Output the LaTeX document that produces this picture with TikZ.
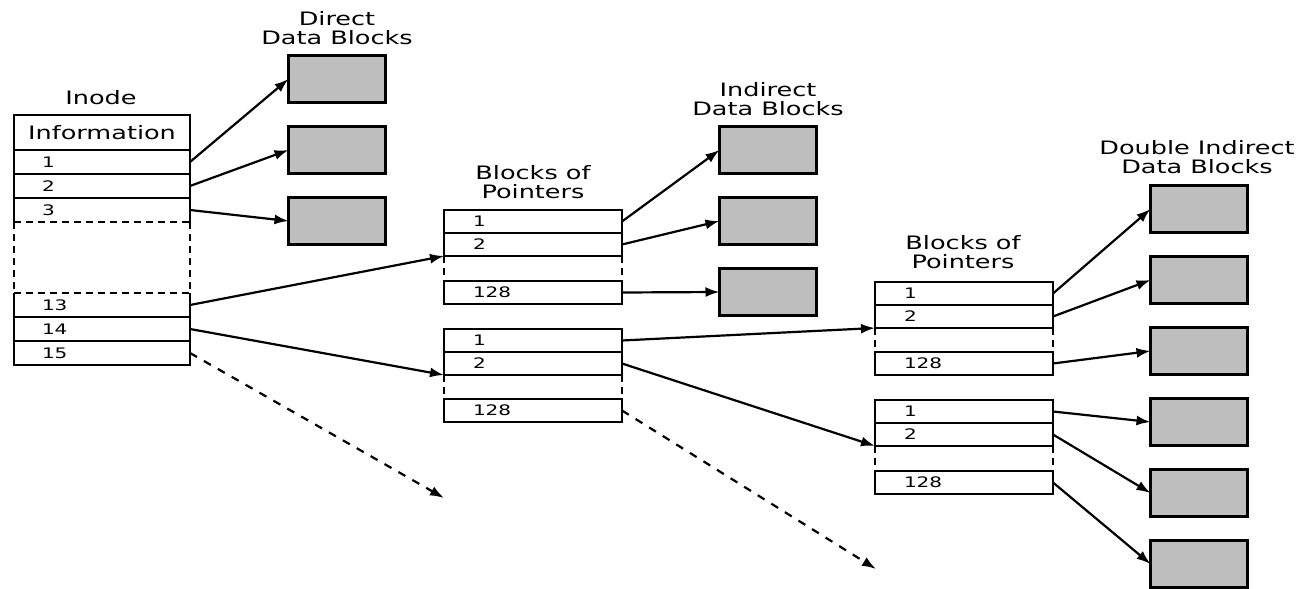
\documentclass[tikz,border=0pt]{standalone}
\usepackage{fontspec}
\setmainfont{DejaVu Sans}[FakeStretch=1.38]
\usetikzlibrary{arrows.meta}
\definecolor{blockgray}{HTML}{BEBEBE}
\tikzset{
  rowbase/.style={line width=2.6pt, minimum height=24pt, inner ysep=0pt, text width=120pt, align=left, anchor=north west, outer sep=0pt, font=\fontsize{14.5}{16}\selectfont},
  irow/.style={rowbase, draw, inner xsep=28pt},
  irowopen/.style={rowbase, inner xsep=28pt},
  prow/.style={rowbase, draw, inner xsep=29pt, minimum height=23pt},
  datablock/.style={draw, line width=2.8pt, fill=blockgray, minimum width=97pt, minimum height=47pt, outer sep=0pt, inner sep=0pt},
  heading/.style={align=center, font=\fontsize{18.5}{19}\selectfont},
  ptr/.style={line width=2.2pt, -{Latex[length=14pt,width=10pt]}},
  dptr/.style={ptr, dash pattern=on 8pt off 8pt},
  gapline/.style={line width=2.6pt, dash pattern=on 7pt off 5pt},
  sideline/.style={line width=2.6pt},
}
\begin{document}
\begin{tikzpicture}[x=1pt,y=-1pt]
\useasboundingbox (0,0) rectangle (1304,589);

% ---------- Inode ----------
\node[heading] (inodeT) at (101,98) {Inode};
\node[draw, line width=2.6pt, minimum width=176pt, minimum height=35pt, anchor=north west, outer sep=0pt, inner sep=0pt, font=\fontsize{18.5}{20}\selectfont] (info) at (14,115) {Information};
\node[irow] (r1) at (14,150) {1};
\node[irow] (r2) at (14,174) {2};
\node[irowopen] (r3) at (14,198) {3};
\draw[sideline] (r3.south west) -- (r3.north west) (r3.north east) -- (r3.south east);
\draw[gapline] (r3.south west) -- (r3.south east);
\node[irowopen] (r13) at (14,293) {13};
\draw[sideline] (r13.north west) -- (r13.south west) (r13.north east) -- (r13.south east);
\draw[gapline] (r13.north west) -- (r13.north east);
\draw[gapline] (r3.south west) -- (r13.north west) (r3.south east) -- (r13.north east);
\node[irow] (r14) at (14,317) {14};
\node[irow] (r15) at (14,341) {15};

% ---------- Direct data blocks ----------
\node[heading] (dirT) at (337,28) {Direct\\Data Blocks};
\node[datablock] (d1) at (337,79) {};
\node[datablock] (d2) at (337,150) {};
\node[datablock] (d3) at (337,221) {};

% ---------- Blocks of pointers (single) ----------
\node[heading] (bpT) at (533,182) {Blocks of\\Pointers};
\node[prow] (a1) at (444,210) {1};
\node[prow] (a2) at (444,233) {2};
\node[prow] (a128) at (444,281) {128};
\draw[gapline] (a2.south west) -- (a128.north west) (a2.south east) -- (a128.north east);
\node[prow] (b1) at (444,329) {1};
\node[prow] (b2) at (444,352) {2};
\node[prow] (b128) at (444,399) {128};
\draw[gapline] (b2.south west) -- (b128.north west) (b2.south east) -- (b128.north east);

% ---------- Indirect data blocks ----------
\node[heading] (indT) at (768,99) {Indirect\\Data Blocks};
\node[datablock] (i1) at (768,150) {};
\node[datablock] (i2) at (768,221) {};
\node[datablock] (i3) at (768,292) {};

% ---------- Blocks of pointers (double) ----------
\node[heading] (bp2T) at (963,252) {Blocks of\\Pointers};
\node[prow] (c1) at (875,282) {1};
\node[prow] (c2) at (875,305) {2};
\node[prow] (c128) at (875,352) {128};
\draw[gapline] (c2.south west) -- (c128.north west) (c2.south east) -- (c128.north east);
\node[prow] (e1) at (875,400) {1};
\node[prow] (e2) at (875,423) {2};
\node[prow] (e128) at (875,471) {128};
\draw[gapline] (e2.south west) -- (e128.north west) (e2.south east) -- (e128.north east);

% ---------- Double indirect data blocks ----------
\node[heading] (dblT) at (1197,157) {Double Indirect\\Data Blocks};
\node[datablock] (g1) at (1199,209) {};
\node[datablock] (g2) at (1199,280) {};
\node[datablock] (g3) at (1199,351) {};
\node[datablock] (g4) at (1199,422) {};
\node[datablock] (g5) at (1199,493) {};
\node[datablock] (g6) at (1199,564) {};

% ---------- connectors ----------
\coordinate (t15) at (444,498);
\coordinate (tb128) at (876,569);

\draw[ptr] (r1.east) -- (d1.west);
\draw[ptr] (r2.east) -- (d2.west);
\draw[ptr] (r3.east) -- (d3.west);
\draw[ptr] (r13.east) -- (a2.south west);
\draw[ptr] (r14.east) -- (b2.south west);
\draw[dptr] (r15.east) -- (t15);

\draw[ptr] (a1.east) -- (i1.west);
\draw[ptr] (a2.east) -- (i2.west);
\draw[ptr] (a128.east) -- (i3.west);
\draw[ptr] (b1.east) -- (c2.south west);
\draw[ptr] (b2.east) -- (e2.south west);
\draw[dptr] (b128.east) -- (tb128);

\draw[ptr] (c1.east) -- (g1.west);
\draw[ptr] (c2.east) -- (g2.west);
\draw[ptr] (c128.east) -- (g3.west);
\draw[ptr] (e1.east) -- (g4.west);
\draw[ptr] (e2.east) -- (g5.west);
\draw[ptr] (e128.east) -- (g6.west);
\end{tikzpicture}
\end{document}
